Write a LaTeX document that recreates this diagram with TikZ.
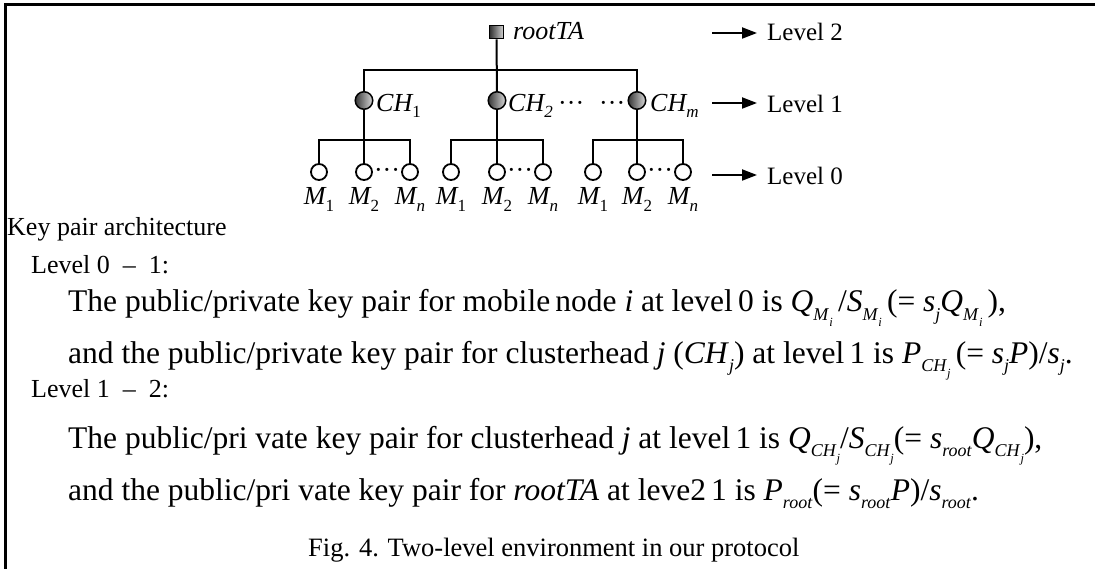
\documentclass[tikz,border=0pt]{standalone}
\usepackage{fontspec}
\setmainfont{Liberation Serif}
\usetikzlibrary{arrows.meta}

% subscripts for the running text, the nested ones, and the tree labels
\newcommand\bsub[1]{\raisebox{-0.28em}{\fontsize{18}{18}\selectfont #1}}
\newcommand\ssub[1]{\raisebox{-0.3em}{\fontsize{12.5}{12.5}\selectfont #1}}
\newcommand\tsub[1]{\raisebox{-0.25em}{\fontsize{17}{17}\selectfont #1}}

\begin{document}
\begin{tikzpicture}[x=1pt,y=-1pt,
  frameline/.style={line width=3pt, line join=miter},
  link/.style={line width=2pt},
  chnode/.style={circle, draw, line width=1.5pt, minimum size=17.5pt, inner sep=0pt,
    left color=black!78, right color=black!15},
  mnode/.style={circle, draw, line width=1.8pt, minimum size=16pt, inner sep=0pt, fill=white},
  rootbox/.style={rectangle, draw, line width=1.2pt, minimum size=13.5pt, inner sep=0pt,
    left color=black!80, right color=black!18},
  tlabel/.style={font=\fontsize{26}{26}\selectfont\itshape, inner sep=0pt, anchor=base west},
  mlabel/.style={font=\fontsize{26}{26}\selectfont\itshape, inner sep=0pt, anchor=base},
  dotrow/.style={font=\fontsize{26}{26}\selectfont, inner sep=0pt, anchor=base west},
  levtext/.style={font=\fontsize{25}{25}\selectfont, inner sep=0pt, anchor=base west},
  levarrow/.style={line width=2pt, -{Triangle[length=15pt,width=11pt]}, shorten >=10pt},
  bodyline/.style={font=\fontsize{31.5}{31.5}\selectfont, inner sep=0pt, anchor=base west},
  headline/.style={font=\fontsize{26}{26}\selectfont, inner sep=0pt, anchor=base west},
  captionline/.style={font=\fontsize{26.5}{26.5}\selectfont, inner sep=0pt, anchor=base west}]

\useasboundingbox (0,0) rectangle (1095,569);

% frame: top and left edges only
\coordinate (ftr) at (1095,4.5);
\coordinate (ftl) at (5.5,4.5);
\coordinate (fbl) at (5.5,569);
\draw[frameline] (ftr) -- (ftl) -- (fbl);

% level 2: trusted authority
\node[rootbox] (root) at (496.5,32) {};
\node[tlabel] (rootlab) at (513,39.5) {rootTA};

% level 1: clusterheads
\node[chnode] (ch1) at (364,100.5) {};
\node[chnode] (ch2) at (497,100.5) {};
\node[chnode] (chm) at (637,100.5) {};
\node[tlabel] (ch1lab) at (376,111.5) {CH\tsub{\textup{1}}};
\node[tlabel] (ch2lab) at (508,111.5) {CH\tsub{2}};
\node[dotrow] (chdotsa) at (558,111.5) {···};
\node[dotrow] (chdotsb) at (599,111.5) {···};
\node[tlabel] (chmlab) at (650,111.5) {CH\tsub{m}};

\coordinate (hub) at (497,70);
\draw[link] (root) -- (ch2);
\draw[link] (ch1) |- (hub) -| (chm);

% level 0: mobile nodes of each cluster
\foreach \k/\xa/\xb/\xc in {1/319/364/410, 2/451/497/543, 3/593/637/683}{
  \node[mnode] (m\k a) at (\xa,172) {};
  \node[mnode] (m\k b) at (\xb,172) {};
  \node[mnode] (m\k c) at (\xc,172) {};
  \coordinate (bar\k) at (\xb,140);
  \node[mlabel] (m\k alab) at (\xa,205) {M\tsub{\textup{1}}};
  \node[mlabel] (m\k blab) at (\xb,205) {M\tsub{\textup{2}}};
  \node[mlabel] (m\k clab) at (\xc,205) {M\tsub{n}};
  \node[dotrow, anchor=base] (m\k dots) at ({(\xb+\xc)/2},178.5) {···};
  \draw[link] (m\k a) |- (bar\k) -| (m\k c);
  \draw[link] (bar\k) -- (m\k b);
}
\draw[link] (ch1) -- (bar1);
\draw[link] (ch2) -- (bar2);
\draw[link] (chm) -- (bar3);

% level markers
\node[levtext] (lv2) at (767,40.7) {Level 2};
\node[levtext] (lv1) at (767,112.5) {Level 1};
\node[levtext] (lv0) at (767,184.3) {Level 0};
\coordinate (ar2) at (712,33);
\coordinate (ar1) at (712,103);
\coordinate (ar0) at (712,175);
\draw[levarrow] (ar2) -- (ar2 -| lv2.west);
\draw[levarrow] (ar1) -- (ar1 -| lv1.west);
\draw[levarrow] (ar0) -- (ar0 -| lv0.west);

% key pair description
\node[headline] (kp) at (7,236) {Key pair architecture};
\node[headline] (l01) at (31,274) {Level 0\enspace–\enspace1:};
\node[bodyline] (t1) at (68,312) {The public/private key pair for mobile\,node \textit{i} at level\,0 is
  \textit{Q}\bsub{\textit{M}\ssub{\textit{i}}}\,/\textit{S}\bsub{\textit{M}\ssub{\textit{i}}}\,(= \textit{s}\bsub{\textit{j}}\textit{Q}\bsub{\textit{M}\ssub{\textit{i}}}\,),};
\node[bodyline] (t2) at (68,363) {and the public/private key pair for clusterhead \textit{j} (\textit{CH}\bsub{\textit{j}}) at level\,1 is
  \textit{P}\bsub{\textit{CH}\ssub{\textit{j}}}\,(= \textit{s}\bsub{\textit{j}}\textit{P})/\textit{s}\bsub{\textit{j}}.};
\node[headline] (l12) at (31,397) {Level 1\enspace–\enspace2:};
\node[bodyline] (t3) at (68,448) {The public/pri vate key pair for clusterhead \textit{j} at level\,1 is
  \textit{Q}\bsub{\textit{CH}\ssub{\textit{j}}}/\textit{S}\bsub{\textit{CH}\ssub{\textit{j}}}(= \textit{s}\bsub{\textit{root}}\textit{Q}\bsub{\textit{CH}\ssub{\textit{j}}}),};
\node[bodyline] (t4) at (68,500) {and the public/pri vate key pair for \textit{rootTA} at leve2\,1 is
  \textit{P}\bsub{\textit{root}}(= \textit{s}\bsub{\textit{root}}\textit{P})/\textit{s}\bsub{\textit{root}}.};
\node[captionline] (cap) at (308,556) {Fig. 4. Two-level environment in our protocol};

\end{tikzpicture}
\end{document}
